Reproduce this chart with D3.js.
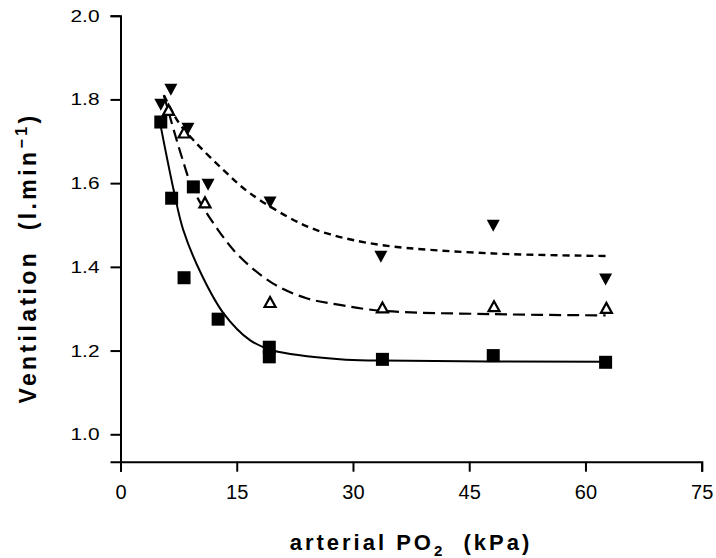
<!DOCTYPE html>
<html>
<head>
<meta charset="utf-8">
<script src="https://cdn.jsdelivr.net/npm/d3@7"></script>
<style>
body { margin: 0; background: #fff; }
svg { display: block; }
</style>
</head>
<body>
<svg width="716" height="558"></svg>
<script>
// filled squares
var sqX = [5.2, 6.6, 9.4, 8.2, 12.6, 19.2, 19.2, 33.8, 48.1, 62.6];
var sqY = [1.746, 1.564, 1.591, 1.374, 1.275, 1.208, 1.185, 1.179, 1.188, 1.172];
// open up-triangles
var upX = [6.2, 8.2, 10.9, 19.3, 33.8, 48.2, 62.7];
var upY = [1.775, 1.721, 1.554, 1.316, 1.303, 1.306, 1.302];
// filled down-triangles
var dnX = [5.2, 6.5, 8.7, 11.3, 19.3, 33.6, 48.1, 62.6];
var dnY = [1.787, 1.823, 1.730, 1.596, 1.554, 1.424, 1.498, 1.370];

// fitted curves
var fitSqX = [5.2, 6.9, 8.1, 10.5, 13.3, 16.7, 19.7, 28.3, 33.7, 62.6];
var fitSqY = [1.735, 1.58, 1.488, 1.38, 1.289, 1.225, 1.200, 1.179, 1.176, 1.173];
var fitUpX = [5.6, 7.9, 9.4, 12.6, 15.4, 19.7, 24.0, 28.3, 33.7, 48.1, 62.6];
var fitUpY = [1.81, 1.663, 1.584, 1.488, 1.424, 1.360, 1.325, 1.309, 1.295, 1.287, 1.284];
var fitDnX = [5.6, 7.5, 9.4, 13.3, 16.7, 23.2, 27.0, 33.7, 48.1, 62.6];
var fitDnY = [1.81, 1.745, 1.703, 1.631, 1.576, 1.504, 1.478, 1.452, 1.432, 1.426];

var xTicks = [0, 15, 30, 45, 60, 75];
var yTicks = [1.0, 1.2, 1.4, 1.6, 1.8, 2.0];

var svg = d3.select("svg");

var x = d3.scaleLinear().domain([0, 75]).range([120.5, 701.7]);
var y = d3.scaleLinear().domain([0.9345, 2.0]).range([461.7, 15.7]);

function zip(xs, ys) { return xs.map(function(v, i) { return [v, ys[i]]; }); }

// axes
var gx = svg.append("g")
  .attr("transform", "translate(0," + y.range()[0] + ")")
  .call(d3.axisBottom(x).tickValues(xTicks).tickSizeOuter(0).tickSize(10).tickPadding(13));
var gy = svg.append("g")
  .attr("transform", "translate(" + x.range()[0] + ",0)")
  .call(d3.axisLeft(y).tickValues(yTicks).tickFormat(d3.format(".1f")).tickSizeOuter(0).tickSize(10).tickPadding(11));

svg.selectAll(".domain, .tick line").attr("stroke", "#000").attr("stroke-width", 2);
gx.selectAll("text").attr("font-family", "Liberation Sans, Arial, sans-serif").attr("font-size", 20).attr("fill", "#000");
gy.selectAll("text").attr("font-family", "Liberation Sans, Arial, sans-serif").attr("font-size", 17).attr("fill", "#000")
  .attr("textLength", 29).attr("lengthAdjust", "spacingAndGlyphs");

// fitted lines
var line = d3.line().x(function(d) { return x(d[0]); }).y(function(d) { return y(d[1]); })
  .curve(d3.curveCatmullRom.alpha(0.5));

svg.append("path").datum(zip(fitSqX, fitSqY)).attr("d", line)
  .attr("fill", "none").attr("stroke", "#000").attr("stroke-width", 2);
svg.append("path").datum(zip(fitUpX, fitUpY)).attr("d", line)
  .attr("fill", "none").attr("stroke", "#000").attr("stroke-width", 2.2).attr("stroke-dasharray", "12,6");
svg.append("path").datum(zip(fitDnX, fitDnY)).attr("d", line)
  .attr("fill", "none").attr("stroke", "#000").attr("stroke-width", 2.4).attr("stroke-dasharray", "7,5");

// markers
svg.selectAll("rect.sq").data(zip(sqX, sqY)).enter().append("rect")
  .attr("class", "sq")
  .attr("x", function(d) { return x(d[0]) - 6.5; })
  .attr("y", function(d) { return y(d[1]) - 6.5; })
  .attr("width", 13).attr("height", 13)
  .attr("fill", "#000");

svg.selectAll("path.up").data(zip(upX, upY)).enter().append("path")
  .attr("class", "up")
  .attr("d", function(d) {
    var cx = x(d[0]), cy = y(d[1]);
    return "M" + (cx - 5.5) + "," + (cy + 5) + "L" + (cx + 5.5) + "," + (cy + 5) + "L" + cx + "," + (cy - 5) + "Z";
  })
  .attr("fill", "#fff").attr("stroke", "#000").attr("stroke-width", 2.2);

svg.selectAll("path.dn").data(zip(dnX, dnY)).enter().append("path")
  .attr("class", "dn")
  .attr("d", function(d) {
    var cx = x(d[0]), cy = y(d[1]);
    return "M" + (cx - 6.5) + "," + (cy - 6) + "L" + (cx + 6.5) + "," + (cy - 6) + "L" + cx + "," + (cy + 6) + "Z";
  })
  .attr("fill", "#000");

// axis titles
var yt = svg.append("text")
  .attr("transform", "translate(36,258) rotate(-90)")
  .attr("text-anchor", "middle")
  .attr("font-family", "Liberation Sans, Arial, sans-serif")
  .attr("font-weight", "bold").attr("font-size", 23)
  .attr("letter-spacing", 3.4)
  .attr("xml:space", "preserve");
yt.append("tspan").text("Ventilation  (l.min");
yt.append("tspan").attr("font-size", 16).attr("dy", -9).text("\u22121");
yt.append("tspan").attr("dy", 9).text(")");

var xt = svg.append("text")
  .attr("x", 411).attr("y", 550)
  .attr("text-anchor", "middle")
  .attr("font-family", "Liberation Sans, Arial, sans-serif")
  .attr("font-weight", "bold").attr("font-size", 22)
  .attr("letter-spacing", 3)
  .attr("xml:space", "preserve");
xt.append("tspan").text("arterial PO");
xt.append("tspan").attr("font-size", 15).attr("dy", 6).text("2");
xt.append("tspan").attr("dy", -6).text("  (kPa)");
</script>
</body>
</html>
